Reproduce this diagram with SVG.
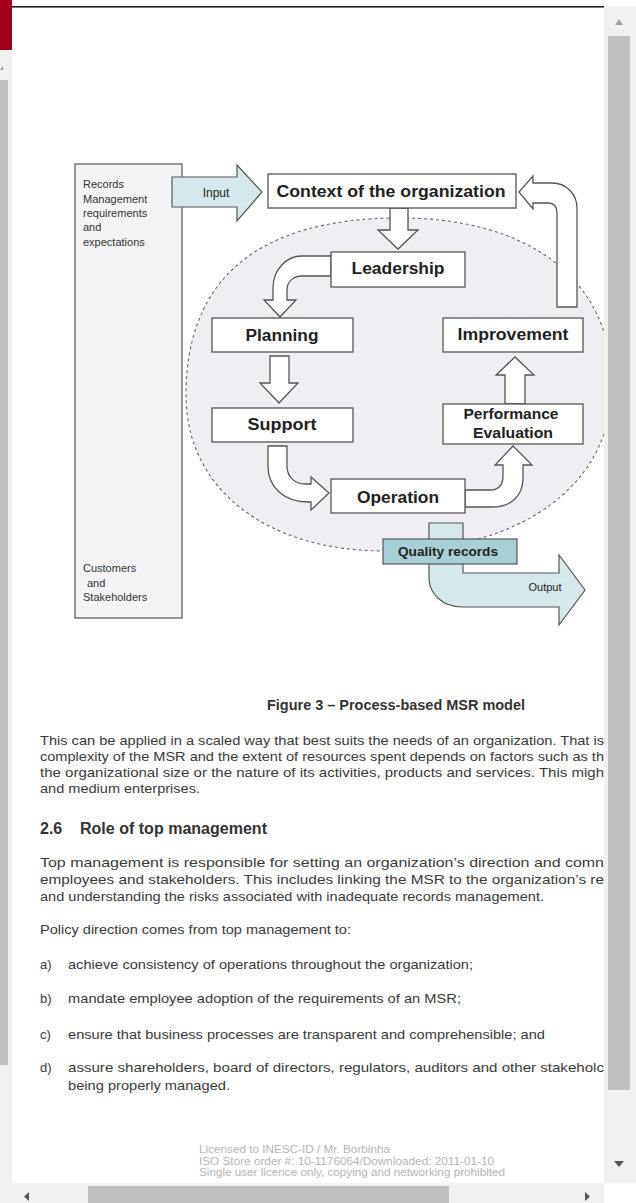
<svg xmlns="http://www.w3.org/2000/svg" width="636" height="1203" viewBox="0 0 636 1203">
<defs>
<style>
.box{fill:#fff;stroke:#555;stroke-width:1.3}
.arr{fill:#fff;stroke:#555;stroke-width:1.3}
.teal{fill:#d5e9ec;stroke:#555;stroke-width:1.2}
.lbl{font-family:"Liberation Sans",Arial,sans-serif;font-weight:bold;fill:#222;text-anchor:middle}
.small{font-family:"Liberation Sans",Arial,sans-serif;font-size:11px;fill:#333}
.body{font-family:"Liberation Sans",Arial,sans-serif;font-size:13px;fill:#3a3a3a}
.head{font-family:"Liberation Sans",Arial,sans-serif;font-size:16px;font-weight:bold;fill:#333}
.foot{font-family:"Liberation Sans",Arial,sans-serif;font-size:10px;fill:#b4b4b4}
.sb{fill:#f1f1f1}
.thumb{fill:#c1c1c1}
.sba{fill:#555}
</style>
</defs>
<rect x="0" y="0" width="636" height="1203" fill="#fff"/>

<!-- diagram background shapes -->
<g id="scope-ellipse">
<path d="M400,218 C531,218 612,281 612,385 C612,485 521,551 385,551 C266,551 186,489 186,395 C186,278 259,218 400,218 Z" fill="#efeef3" stroke="#666" stroke-width="1.1" stroke-dasharray="3,3"/>
</g>

<g id="stakeholders">
<rect x="75" y="164" width="107" height="454" fill="#f4f3f6" stroke="#555" stroke-width="1.2"/>
<text class="small" x="83" y="188">Records</text>
<text class="small" x="83" y="203">Management</text>
<text class="small" x="83" y="217">requirements</text>
<text class="small" x="83" y="231">and</text>
<text class="small" x="83" y="246">expectations</text>
<text class="small" x="83" y="572">Customers</text>
<text class="small" x="87" y="587">and</text>
<text class="small" x="83" y="601">Stakeholders</text>
</g>

<g id="connectors">
<path class="teal" d="M172,177 H237 V165 L262,192 L237,221 V207 H172 Z"/>
<text class="lbl" x="216" y="197" style="font-size:12px;font-weight:normal">Input</text>
<path class="arr" d="M390,208 H408 V230 H418 L398,249 L378,230 H390 Z"/>
<path class="arr" d="M331,256 H302 C286,256 273,270 273,288 V300 H264 L280,317 L296,300 H287 V290 C287,281 294,276 302,276 H331 Z"/>
<path class="arr" d="M270,356 H289 V383 H298 L279,403 L260,383 H270 Z"/>
<path class="arr" d="M268,446 V466 C268,488 285,502 308,502 H311 V510 L329,493 L311,477 V484 H305 C295,484 287,477 287,466 V446 Z"/>
<path class="arr" d="M465,490 H490 C499,490 503,485 503,476 V465 H495 L513,446 L532,465 H523 V478 C523,496 511,507 492,507 H465 Z"/>
<path class="arr" d="M505,404 H525 V375 H534 L515,357 L496,375 H505 Z"/>
<path class="arr" d="M557,307 V213 C557,207 554,203 548,203 H533 V209 L519,192 L533,176 V183 H552 C566,183 577,194 577,208 V307 Z"/>
<path class="teal" d="M429,523 H463 V573 H559 V555 L585,590 L559,625 V607 H462 C443,607 429,594 429,578 Z"/>
<text class="lbl" x="545" y="591" style="font-size:11px;font-weight:normal">Output</text>
</g>

<g id="context">
<rect class="box" x="268" y="174" width="248" height="34"/>
<text class="lbl" x="391" y="197" style="font-size:17px" textLength="229" lengthAdjust="spacingAndGlyphs">Context of the organization</text>
</g>
<g id="leadership">
<rect class="box" x="331" y="252" width="134" height="35"/>
<text class="lbl" x="398" y="274" style="font-size:16px" textLength="93" lengthAdjust="spacingAndGlyphs">Leadership</text>
</g>
<g id="planning">
<rect class="box" x="212" y="318" width="141" height="34"/>
<text class="lbl" x="282" y="341" style="font-size:16px" textLength="73" lengthAdjust="spacingAndGlyphs">Planning</text>
</g>
<g id="support">
<rect class="box" x="212" y="408" width="141" height="34"/>
<text class="lbl" x="282" y="430" style="font-size:16px" textLength="69" lengthAdjust="spacingAndGlyphs">Support</text>
</g>
<g id="operation">
<rect class="box" x="331" y="479" width="134" height="34"/>
<text class="lbl" x="398" y="503" style="font-size:16px" textLength="82" lengthAdjust="spacingAndGlyphs">Operation</text>
</g>
<g id="performance-evaluation">
<rect class="box" x="443" y="404" width="140" height="40"/>
<text class="lbl" x="511" y="419" style="font-size:14px" textLength="95" lengthAdjust="spacingAndGlyphs">Performance</text>
<text class="lbl" x="513" y="438" style="font-size:14px" textLength="80" lengthAdjust="spacingAndGlyphs">Evaluation</text>
</g>
<g id="improvement">
<rect class="box" x="443" y="318" width="140" height="34"/>
<text class="lbl" x="513" y="340" style="font-size:16px" textLength="111" lengthAdjust="spacingAndGlyphs">Improvement</text>
</g>
<g id="quality-records">
<rect x="383" y="539" width="134" height="25" fill="#a7cfd5" stroke="#555" stroke-width="1.2"/>
<text class="lbl" x="448" y="556" style="font-size:12px" textLength="100" lengthAdjust="spacingAndGlyphs">Quality records</text>
</g>

<!-- caption and body text -->
<text x="267" y="710" font-family="Liberation Sans, Arial, sans-serif" font-size="14" font-weight="bold" fill="#333" textLength="258" lengthAdjust="spacingAndGlyphs">Figure 3 – Process-based MSR model</text>

<text class="body" x="40" y="745" textLength="564" lengthAdjust="spacingAndGlyphs">This can be applied in a scaled way that best suits the needs of an organization. That is</text>
<text class="body" x="40" y="761" textLength="564" lengthAdjust="spacingAndGlyphs">complexity of the MSR and the extent of resources spent depends on factors such as th</text>
<text class="body" x="40" y="777" textLength="564" lengthAdjust="spacingAndGlyphs">the organizational size or the nature of its activities, products and services. This migh</text>
<text class="body" x="40" y="793" textLength="160" lengthAdjust="spacingAndGlyphs">and medium enterprises.</text>

<text class="head" x="40" y="834">2.6</text>
<text class="head" x="80" y="834" textLength="187" lengthAdjust="spacingAndGlyphs">Role of top management</text>

<text class="body" x="40" y="867" textLength="564" lengthAdjust="spacingAndGlyphs">Top management is responsible for setting an organization’s direction and comn</text>
<text class="body" x="40" y="884" textLength="564" lengthAdjust="spacingAndGlyphs">employees and stakeholders.  This includes linking the MSR to the organization’s re</text>
<text class="body" x="40" y="901" textLength="504" lengthAdjust="spacingAndGlyphs">and understanding the risks associated with inadequate records management.</text>

<text class="body" x="40" y="934" textLength="311" lengthAdjust="spacingAndGlyphs">Policy direction comes from top management to:</text>

<text class="body" x="40" y="969">a)</text>
<text class="body" x="68" y="969" textLength="405" lengthAdjust="spacingAndGlyphs">achieve consistency of operations throughout the organization;</text>
<text class="body" x="40" y="1003">b)</text>
<text class="body" x="68" y="1003" textLength="393" lengthAdjust="spacingAndGlyphs">mandate employee adoption of the requirements of an MSR;</text>
<text class="body" x="40" y="1039">c)</text>
<text class="body" x="68" y="1039" textLength="477" lengthAdjust="spacingAndGlyphs">ensure that business processes are transparent and comprehensible; and</text>
<text class="body" x="40" y="1072">d)</text>
<text class="body" x="68" y="1072" textLength="536" lengthAdjust="spacingAndGlyphs">assure shareholders, board of directors, regulators, auditors and other stakeholc</text>
<text class="body" x="68" y="1090" textLength="162" lengthAdjust="spacingAndGlyphs">being properly managed.</text>

<text class="foot" x="199" y="1153" textLength="191" lengthAdjust="spacingAndGlyphs">Licensed to INESC-ID / Mr. Borbinha</text>
<text class="foot" x="199" y="1165" textLength="295" lengthAdjust="spacingAndGlyphs">ISO Store order #: 10-1176064/Downloaded: 2011-01-10</text>
<text class="foot" x="199" y="1176" textLength="306" lengthAdjust="spacingAndGlyphs">Single user licence only, copying and networking prohibited</text>

<!-- window chrome -->
<rect x="12" y="6" width="592" height="1.6" fill="#222"/>
<rect x="0" y="0" width="12" height="1183" class="sb"/>
<rect x="0" y="0" width="12" height="50" fill="#a3001c"/>
<path d="M0,70 L3,66 L3,70 Z" fill="#999"/>
<rect x="0" y="80" width="8" height="985" class="thumb"/>
<path d="M0,1188 H4 L2,1192 Z" class="sba"/>

<rect x="604" y="6" width="32" height="1177" class="sb"/>
<path d="M615,25 L619,19 L623,25 Z" fill="#a0a0a0"/>
<rect x="608" y="36" width="22" height="1054" class="thumb"/>
<path d="M614,1161 H624 L619,1167 Z" class="sba"/>

<rect x="0" y="1183" width="604" height="20" class="sb"/>
<rect x="88" y="1186" width="361" height="17" class="thumb"/>
<path d="M29,1192 V1201 L24,1196.5 Z" class="sba"/>
<path d="M585,1192 V1201 L590,1196.5 Z" class="sba"/>
</svg>
